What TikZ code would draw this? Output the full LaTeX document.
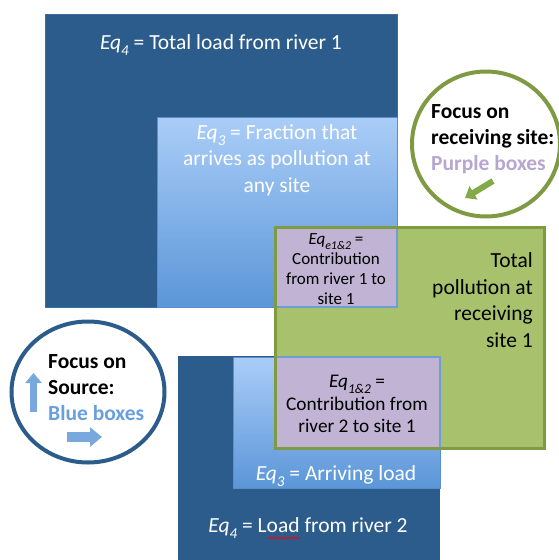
\documentclass[tikz,border=0pt]{standalone}
\usepackage{fontspec}
\setmainfont{Carlito}
\usetikzlibrary{shapes.geometric,arrows.meta,decorations.pathmorphing}
\definecolor{darkblue}{HTML}{2B5C8B}
\definecolor{darkedge}{HTML}{3E6E9C}
\definecolor{lbtop}{HTML}{AACDF7}
\definecolor{lbbot}{HTML}{5B96D8}
\definecolor{lbedge}{HTML}{5A8FCB}
\definecolor{purp}{HTML}{C1B3D4}
\definecolor{purpedge}{HTML}{6E9ED3}
\definecolor{grn}{HTML}{A8C16C}
\definecolor{grnedge}{HTML}{7E9B43}
\definecolor{purptext}{HTML}{B7A6D0}
\definecolor{bluetext}{HTML}{6A9FDD}
\definecolor{arrowblue}{HTML}{78A8DE}
\definecolor{arrowgreen}{HTML}{82AA48}
\newcommand{\eqsub}[1]{{\itshape Eq\raisebox{-0.28em}{\scalebox{0.7}{#1}}}}
\begin{document}
\begin{tikzpicture}[x=1pt,y=-1pt,
  box/.style={rectangle, inner sep=0pt, outer sep=0pt, anchor=north west},
  darkbox/.style={box, fill=darkblue, draw=darkedge, line width=1pt},
  lightbox/.style={box, top color=lbtop, bottom color=lbbot, draw=lbedge, line width=0.8pt},
  purpbox/.style={box, fill=purp, draw=purpedge, line width=1.5pt},
  grnbox/.style={box, fill=grn},
  bigtxt/.style={font=\fontsize{21.5}{26.5}\selectfont, inner sep=0pt},
  whitetxt/.style={bigtxt, text=white, align=center},
  ring/.style={ellipse, draw, line width=4pt, inner sep=0pt, fill=none},
]
\useasboundingbox[fill=white] (0,0) rectangle (559,560);

% river 1 stack
\node[darkbox, minimum width=352pt, minimum height=293pt] (d1) at (45,14) {};
\node[lightbox, minimum width=240pt, minimum height=190pt] (l1) at (157,117) {};
% receiving site
\node[grnbox, minimum width=269pt, minimum height=221pt] (g) at (275,227) {};
\node[purpbox, minimum width=122pt, minimum height=80pt] (p1) at (275,227) {};
% river 2 stack
\node[box, fill=darkblue, minimum width=262pt, minimum height=204pt] (d2) at (178,356) {};
\node[lightbox, minimum width=207pt, minimum height=131pt] (l2) at (233,357) {};
\node[purpbox, minimum width=165pt, minimum height=91pt] (p2) at (275,357) {};
\draw[grnedge, line width=3pt] (g.north west) rectangle (g.south east);

% texts
\node[whitetxt] (t1) at (221,45) {\eqsub{4} = Total load from river 1};
\node[whitetxt] (t2) at (277,160) {\eqsub{3} = Fraction that\\arrives as pollution at\\any site};
\node[inner sep=0pt, align=center, font=\fontsize{17}{20}\selectfont] (t3) at (336,269)
  {\eqsub{e1\&2} =\\Contribution\\from river 1 to\\site 1};
\node[bigtxt, align=right, anchor=east] (t4) at (533,300) {Total\\pollution at\\receiving\\site 1};
\node[inner sep=0pt, align=center, font=\fontsize{19.3}{22.5}\selectfont] (t5) at (357,404)
  {\eqsub{1\&2} =\\Contribution from\\river 2 to site 1};
\node[whitetxt] (t6) at (336,476) {\eqsub{3} = Arriving load};
\node[whitetxt] (t7) at (308,528) {\eqsub{4} = Load from river 2};
% spell-check underline under "Load"
\coordinate (sq1) at (267,538);
\coordinate (sq2) at (300,538);
\draw[red, line width=0.7pt, decorate, decoration={snake, amplitude=0.8pt, segment length=3pt}] (sq1) -- (sq2);

% focus circles
\node[ring, draw=grnedge, minimum width=148pt, minimum height=145pt] (gc) at (486,144) {};
\node[bigtxt, align=left, anchor=west, font=\fontsize{21.5}{26}\selectfont\bfseries] (gct) at (431,139)
  {Focus on\\receiving site:\\\textcolor{purptext}{Purple boxes}};
\node[ring, draw=darkblue, minimum width=153pt, minimum height=141pt] (bc) at (88,392) {};
\node[bigtxt, align=left, anchor=west, font=\fontsize{21.5}{26}\selectfont\bfseries] (bct) at (48,388)
  {Focus on\\Source:\\\textcolor{bluetext}{Blue boxes}};

% arrows
\coordinate (ua1) at (33.5,412);
\coordinate (ua2) at (33.5,373);
\coordinate (ra1) at (67,437);
\coordinate (ra2) at (102,437);
\coordinate (ga1) at (493,181);
\coordinate (ga2) at (465,198);
\draw[arrowblue, line width=7pt, -{Triangle[width=16pt,length=10pt]}] (ua1) -- (ua2);
\draw[arrowblue, line width=10pt, -{Triangle[width=19pt,length=12pt]}] (ra1) -- (ra2);
\draw[arrowgreen, line width=6pt, -{Triangle[width=15pt,length=10pt]}] (ga1) -- (ga2);
\end{tikzpicture}
\end{document}
